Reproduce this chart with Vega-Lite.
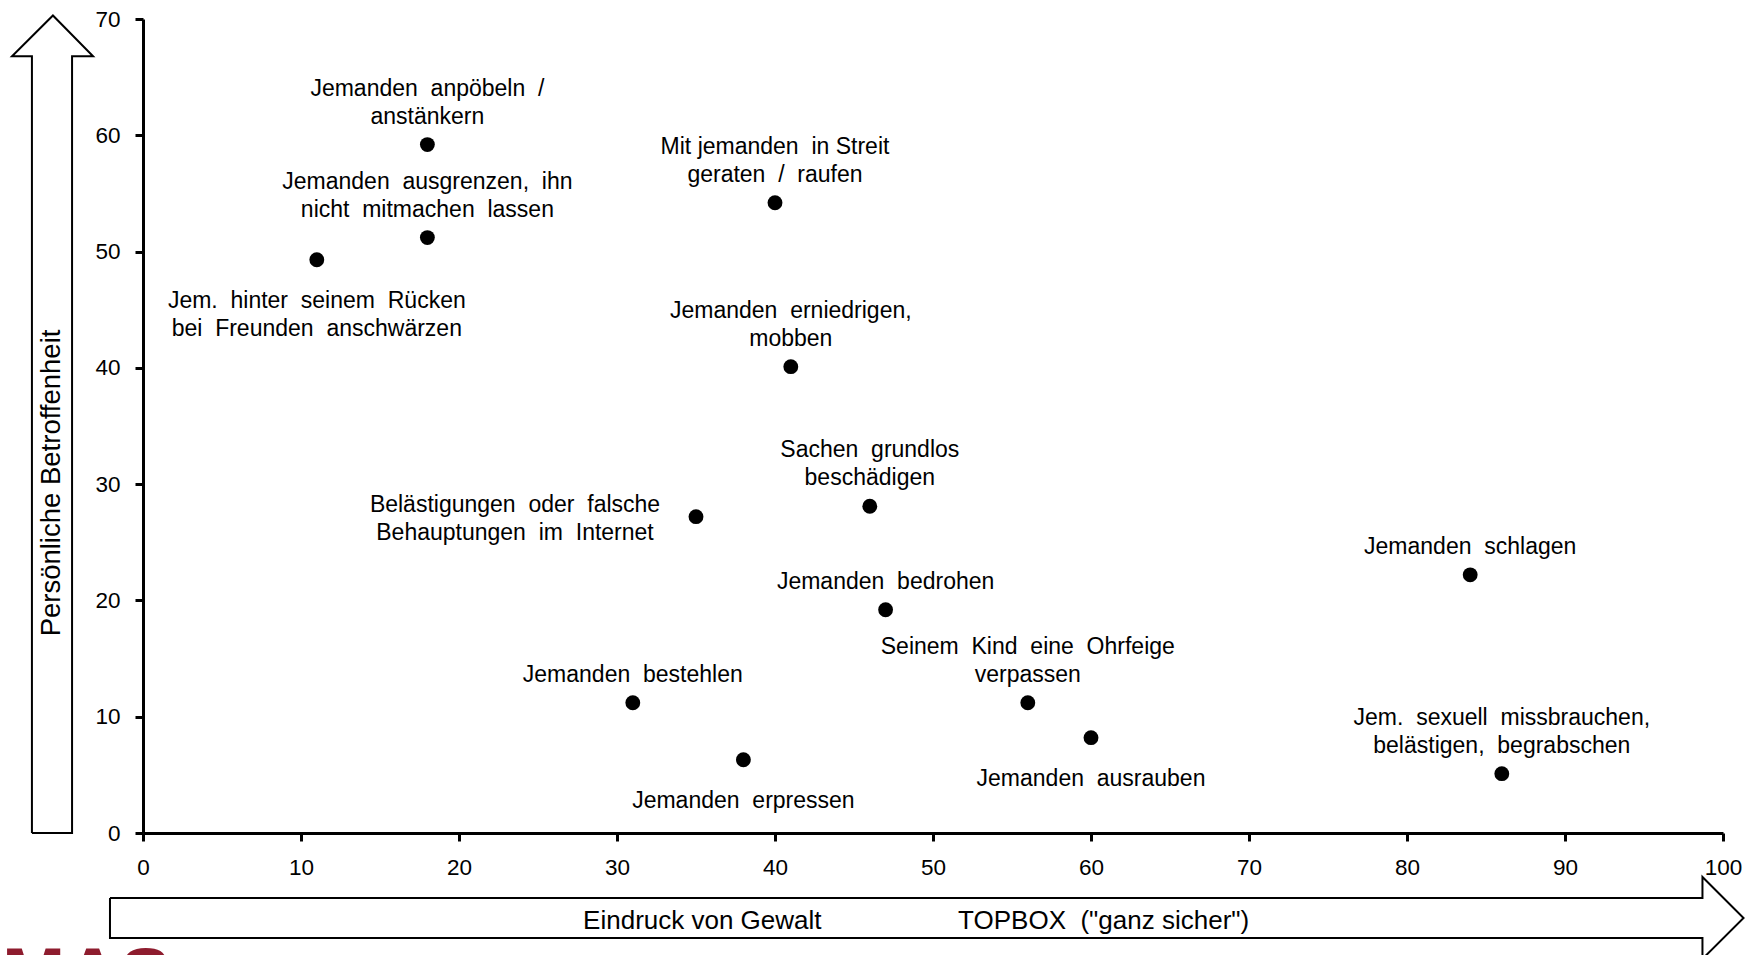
{
  "$schema": "https://vega.github.io/schema/vega-lite/v6.json",
  "width": 1580,
  "height": 814,
  "autosize": {"type": "none"},
  "padding": {"left": 143, "top": 19, "right": 38, "bottom": 122},
  "background": "white",
  "config": {
    "view": {"stroke": null},
    "font": "Liberation Sans",
    "text": {"font": "Liberation Sans", "lineBreak": "\n", "color": "black"},
    "axis": {
      "grid": false,
      "domainColor": "black",
      "domainWidth": 3,
      "tickColor": "black",
      "tickWidth": 3,
      "tickSize": 8,
      "labelFont": "Liberation Sans",
      "labelFontSize": 22.5,
      "labelColor": "black",
      "labelPadding": 15,
      "labelFlush": false,
      "labelOverlap": false,
      "title": null
    }
  },
  "datasets": {
    "points": [
      {"item": "Jemanden\u00a0 anpöbeln\u00a0 /\nanstänkern", "gewalt": 18, "betroffen": 59.2, "pos": "above2"},
      {"item": "Jemanden\u00a0 ausgrenzen,\u00a0 ihn\nnicht\u00a0 mitmachen\u00a0 lassen", "gewalt": 18, "betroffen": 51.2, "pos": "above2"},
      {"item": "Jem.\u00a0 hinter\u00a0 seinem\u00a0 Rücken\nbei\u00a0 Freunden\u00a0 anschwärzen", "gewalt": 11, "betroffen": 49.3, "pos": "below"},
      {"item": "Mit jemanden\u00a0 in Streit\ngeraten\u00a0 /\u00a0 raufen", "gewalt": 40, "betroffen": 54.2, "pos": "above2"},
      {"item": "Jemanden\u00a0 erniedrigen,\nmobben", "gewalt": 41, "betroffen": 40.1, "pos": "above2"},
      {"item": "Sachen\u00a0 grundlos\nbeschädigen", "gewalt": 46, "betroffen": 28.1, "pos": "above2"},
      {"item": "Belästigungen\u00a0 oder\u00a0 falsche\nBehauptungen\u00a0 im\u00a0 Internet", "gewalt": 35, "betroffen": 27.2, "pos": "left"},
      {"item": "Jemanden\u00a0 bedrohen", "gewalt": 47, "betroffen": 19.2, "pos": "above1"},
      {"item": "Jemanden\u00a0 bestehlen", "gewalt": 31, "betroffen": 11.2, "pos": "above1"},
      {"item": "Jemanden\u00a0 erpressen", "gewalt": 38, "betroffen": 6.3, "pos": "below"},
      {"item": "Seinem\u00a0 Kind\u00a0 eine\u00a0 Ohrfeige\nverpassen", "gewalt": 56, "betroffen": 11.2, "pos": "above2"},
      {"item": "Jemanden\u00a0 ausrauben", "gewalt": 60, "betroffen": 8.2, "pos": "below"},
      {"item": "Jemanden\u00a0 schlagen", "gewalt": 84, "betroffen": 22.2, "pos": "above1"},
      {"item": "Jem.\u00a0 sexuell\u00a0 missbrauchen,\nbelästigen,\u00a0 begrabschen", "gewalt": 86, "betroffen": 5.1, "pos": "above2"}
    ],
    "arrows": [
      {"shape": "up", "i": 0, "x": -7.03, "y": 0},
      {"shape": "up", "i": 1, "x": -7.03, "y": 66.8},
      {"shape": "up", "i": 2, "x": -8.29, "y": 66.8},
      {"shape": "up", "i": 3, "x": -5.7, "y": 70.3},
      {"shape": "up", "i": 4, "x": -3.16, "y": 66.8},
      {"shape": "up", "i": 5, "x": -4.49, "y": 66.8},
      {"shape": "up", "i": 6, "x": -4.49, "y": 0},
      {"shape": "up", "i": 7, "x": -7.03, "y": 0},
      {"shape": "right", "i": 0, "x": -2.09, "y": -5.59},
      {"shape": "right", "i": 1, "x": 98.7, "y": -5.59},
      {"shape": "right", "i": 2, "x": 98.7, "y": -3.78},
      {"shape": "right", "i": 3, "x": 101.3, "y": -7.31},
      {"shape": "right", "i": 4, "x": 98.7, "y": -10.83},
      {"shape": "right", "i": 5, "x": 98.7, "y": -9.03},
      {"shape": "right", "i": 6, "x": -2.09, "y": -9.03},
      {"shape": "right", "i": 7, "x": -2.09, "y": -5.59}
    ],
    "notes": [
      {"label": "Persönliche Betroffenheit", "x": -5.76, "y": 30.1, "kind": "ytitle"},
      {"label": "Eindruck von Gewalt", "x": 35.4, "y": -7.55, "kind": "xtitle"},
      {"label": "TOPBOX\u00a0 (\"ganz sicher\")", "x": 60.8, "y": -7.55, "kind": "xtitle"},
      {"label": "MAS", "x": -8.92, "y": -9.32, "kind": "logo"}
    ]
  },
  "encoding": {
    "x": {"field": "gewalt", "type": "quantitative", "scale": {"domain": [0, 100], "nice": false, "zero": false}, "axis": {"values": [0, 10, 20, 30, 40, 50, 60, 70, 80, 90, 100]}},
    "y": {"field": "betroffen", "type": "quantitative", "scale": {"domain": [0, 70], "nice": false, "zero": false}, "axis": {"values": [0, 10, 20, 30, 40, 50, 60, 70]}}
  },
  "layer": [
    {
      "data": {"name": "arrows"},
      "mark": {"type": "line", "color": "black", "strokeWidth": 2, "strokeJoin": "miter", "interpolate": "linear"},
      "encoding": {
        "x": {"field": "x", "type": "quantitative"},
        "y": {"field": "y", "type": "quantitative"},
        "order": {"field": "i", "type": "quantitative"},
        "detail": {"field": "shape", "type": "nominal"}
      }
    },
    {
      "data": {"name": "notes"},
      "transform": [{"filter": "datum.kind === 'ytitle'"}],
      "mark": {"type": "text", "angle": 270, "fontSize": 27.5, "align": "center", "baseline": "middle"},
      "encoding": {
        "x": {"field": "x", "type": "quantitative"},
        "y": {"field": "y", "type": "quantitative"},
        "text": {"field": "label"}
      }
    },
    {
      "data": {"name": "notes"},
      "transform": [{"filter": "datum.kind === 'xtitle'"}],
      "mark": {"type": "text", "fontSize": 26, "align": "center", "baseline": "middle"},
      "encoding": {
        "x": {"field": "x", "type": "quantitative"},
        "y": {"field": "y", "type": "quantitative"},
        "text": {"field": "label"}
      }
    },
    {
      "data": {"name": "notes"},
      "transform": [{"filter": "datum.kind === 'logo'"}],
      "mark": {"type": "text", "fontSize": 76, "fontWeight": "bold", "align": "left", "baseline": "top", "color": "#8e1c2e"},
      "encoding": {
        "x": {"field": "x", "type": "quantitative"},
        "y": {"field": "y", "type": "quantitative"},
        "text": {"field": "label"}
      }
    },
    {
      "data": {"name": "points"},
      "mark": {"type": "circle", "size": 220, "color": "black", "opacity": 1}
    },
    {
      "data": {"name": "points"},
      "transform": [{"filter": "datum.pos === 'above1'"}],
      "mark": {"type": "text", "fontSize": 23, "align": "center", "baseline": "bottom", "dy": -16, "lineHeight": 28},
      "encoding": {"text": {"field": "item"}}
    },
    {
      "data": {"name": "points"},
      "transform": [{"filter": "datum.pos === 'above2'"}],
      "mark": {"type": "text", "fontSize": 23, "align": "center", "baseline": "bottom", "dy": -44, "lineHeight": 28},
      "encoding": {"text": {"field": "item"}}
    },
    {
      "data": {"name": "points"},
      "transform": [{"filter": "datum.pos === 'below'"}],
      "mark": {"type": "text", "fontSize": 23, "align": "center", "baseline": "top", "dy": 30, "lineHeight": 28},
      "encoding": {"text": {"field": "item"}}
    },
    {
      "data": {"name": "points"},
      "transform": [{"filter": "datum.pos === 'left'"}],
      "mark": {"type": "text", "fontSize": 23, "align": "center", "baseline": "middle", "dx": -181, "dy": -12, "lineHeight": 28},
      "encoding": {"text": {"field": "item"}}
    }
  ]
}
